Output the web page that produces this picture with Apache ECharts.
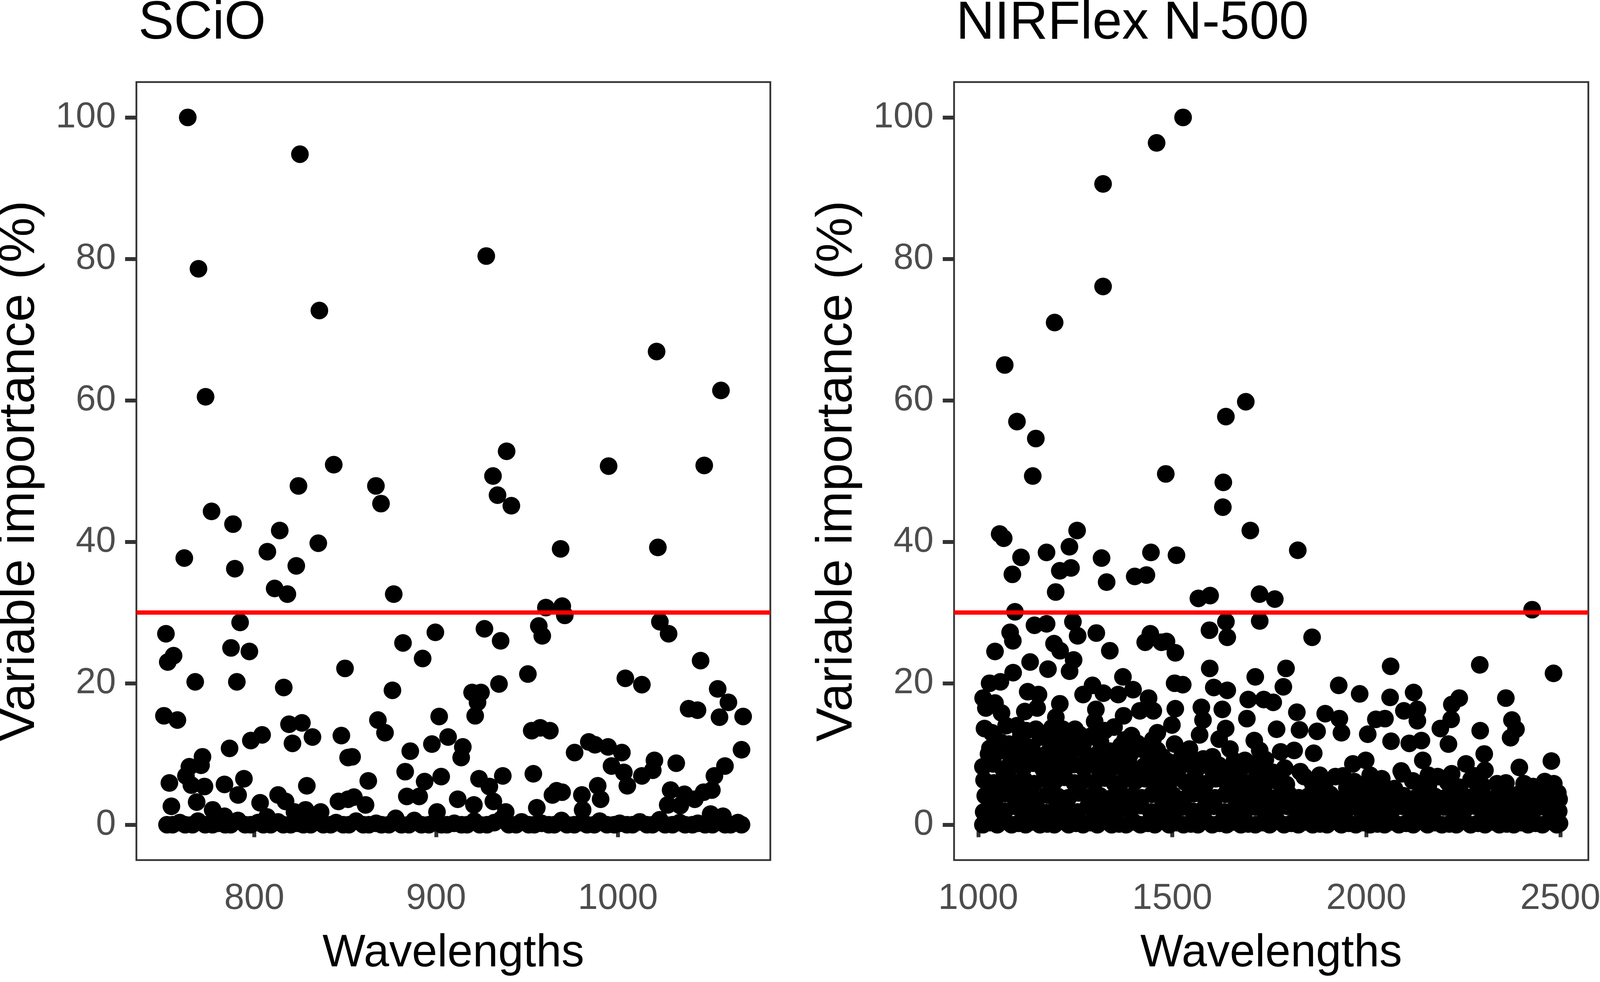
<!DOCTYPE html>
<html><head><meta charset="utf-8">
<script src="https://cdn.jsdelivr.net/npm/echarts@6/dist/echarts.min.js"></script>
<style>html,body{margin:0;padding:0;background:#fff;overflow:hidden}#c{width:100vw;height:100vh}</style>
</head><body><div id="c"></div>
<script>
// ---------- Titles / axis labels ----------
const panelTitles = ["SCiO", "NIRFlex N-500"];
const xTitle = "Wavelengths";
const yTitle = "Variable importance (%)";
const threshold = 30;
const yTicks = [0, 20, 40, 60, 80, 100];
const sciXTicks = [800, 900, 1000];
const nirXTicks = [1000, 1500, 2000, 2500];

// ---------- SCiO: [wavelength, importance] ----------
const sciHigh = [
[763.4,100],[825.1,94.8],[769.3,78.6],[927.6,80.4],[835.8,72.7],[773.2,60.5],[1021.3,66.9],[1056.7,61.4],
[938.8,52.8],[843.7,50.9],[994.9,50.7],[1047.5,50.8],[824.3,47.9],[866.9,47.9],[931.3,49.3],[869.7,45.4],
[933.8,46.6],[941.4,45.1],[776.5,44.3],[788.3,42.5],[814,41.6],[761.5,37.7],[807.2,38.6],[835.2,39.8],
[789.3,36.2],[823.1,36.6],[811.2,33.4],[818.2,32.6],[968.5,39],[1022,39.2],[876.7,32.6],[960.4,30.7],
[969.4,30.9],[970.8,29.6],[1023.1,28.7],[1027.9,27]
];
const sciMid = [
[792.2,28.6],[751.4,27],[755.6,23.9],[752.4,23],[787.2,25],[797.3,24.5],[849.9,22.1],[767.5,20.2],
[790.4,20.2],[816.2,19.4],[750.3,15.4],[757.7,14.8],[819.1,14.2],[826.2,14.4],[832,12.4],[821,11.5],
[847.9,12.6],[804.3,12.7],[798.1,11.9],[786.4,10.8],[851.6,9.5],[771.5,9.6],[770.7,8.4],[764.3,8.2],
[762.4,6.9],[753.3,5.9],[772.6,5.4],[765.4,5.6],[783.6,5.7],[794.3,6.5],[791.1,4.2],[828.9,5.5],
[768.3,3.2],[754.4,2.6],[777.1,2.1],[803.2,3.1],[813.1,4.2],[817.2,3.3],[846.3,3.3],[851.6,3.6],
[836.5,1.8],[822.1,1.8],[828.2,2.1],[783.6,1.2],[807,1.1],
[956.5,28.1],[958.4,26.7],[926.6,27.7],[935.5,26],[899.6,27.2],[881.8,25.7],[892.6,23.5],[950.5,21.3],
[934.6,19.9],[876,19],[919.8,18.7],[924.7,18.7],[922.8,17.3],[921.5,15.4],[901.7,15.3],[868,14.8],
[871.9,13],[952.6,13.3],[957.3,13.7],[962.6,13.3],[906.6,12.4],[897.7,11.4],[914.7,11],[913.8,9.5],
[885.8,10.4],[853.8,9.6],[883,7.5],[862.7,6.2],[893.7,6.1],[902.8,6.8],[923.6,6.5],[936.7,6.9],
[953.5,7.2],[929.3,5.4],[966.3,4.8],[964,4.2],[854.8,3.9],[861.2,2.8],[883.9,4],[890.7,4],
[911.9,3.6],[920.8,2.8],[931.5,3.3],[938.3,1.8],[955.4,2.4],[900.5,1.8],[877.8,0.9],
[1045.5,23.2],[1004.1,20.7],[1013.2,19.8],[1054.9,19.2],[1060.8,17.3],[1038.9,16.4],[1043.8,16.2],
[1055.9,15.2],[1068.9,15.3],[1068,10.6],[976.2,10.2],[984,11.7],[987.4,11.3],[994.6,11],[1002.2,10.2],
[996.5,8.3],[1003.3,7.4],[1005.2,5.5],[1013.2,6.9],[1020.1,9.1],[1019.2,7.7],[1032.1,8.7],[1058.9,8.3],
[1053.1,6.9],[1051.7,4.9],[1047.2,4.6],[1042.3,3.6],[1036.6,4.3],[1029,4.9],[1027.4,2.8],[1034.3,2.7],
[969.3,4.6],[980.2,4.2],[988.9,5.5],[990.5,3.6],[1051,1.5],[1057.8,1.2],[980.6,2.1]
];
const sciZero = [
[752,0],[755,0],[759,0.3],[762,0],[766,0],[769,0.5],[773,0],[777,0],[780,0.2],[784,0],[787,0],[791,0.6],
[795,0],[798,0],[802,0.3],[805,0],[809,0],[813,0.4],[816,0],[820,0],[824,0.2],[827,0],[831,0],[834,0.7],
[838,0],[842,0],[845,0.3],[849,0],[852,0],[856,0.5],[860,0],[863,0],[867,0.2],[870,0],[874,0],[878,0.4],
[881,0],[885,0],[888,0.6],[892,0],[896,0],[899,0.3],[903,0],[906,0],[910,0.2],[914,0],[917,0],[921,0.5],
[924,0],[928,0],[932,0.3],[936,0.8],[940,0],[944,0],[947,0.4],[951,0],[954,0],[958,0.2],[962,0],[965,0],
[969,0.6],[972,0],[976,0],[980,0.3],[983,0],[987,0],[990,0.5],[994,0],[998,0],[1001,0.2],[1005,0],[1008,0],
[1012,0.4],[1016,0],[1019,0],[1023,0.7],[1026,0],[1030,0],[1034,0.3],[1037,0],[1041,0],[1044,0.2],[1048,0],
[1052,0],[1055,0.5],[1059,0],[1062,0],[1066,0.3],[1068,0]
];

// ---------- NIRFlex N-500: [wavelength, importance] ----------
const nirHigh = [
[1527.9,100],[1459.7,96.4],[1321.7,90.6],[1321.7,76.1],[1196.9,71],[1068.3,65],[1689.5,59.8],[1638.2,57.7],
[1099.8,57],[1148.4,54.6],[1140.5,49.3],[1483.3,49.6],[1631.6,48.4],[1630.4,44.9],[1701.2,41.6],[1055.2,41.1],
[1065.6,40.5],[1254.8,41.6],[1235,39.3],[1176,38.5],[1110.3,37.8],[1445.1,38.5],[1510.9,38.1],[1317.8,37.7],
[1823.5,38.8],[1088,35.4],[1210.2,35.9],[1239,36.3],[1403.3,35.1],[1433.4,35.3],[1330.9,34.3],[1199.6,32.9],
[1567.4,32],[1597.6,32.4],[1724.9,32.6],[1764.3,31.9],[1094.6,30.1],[2427.5,30.4]
];
const nirMid = [
[1144.9,28.2],[1176.2,28.4],[1244,28.7],[1256.2,26.7],[1304.3,27.1],[1082.2,27.2],[1089.2,26],[1043.2,24.5],
[1339.1,24.6],[1443.5,27],[1430.3,25.8],[1472,25.8],[1195.3,25.6],[1211,24.6],[1133.7,23],[1179.7,22],
[1245.8,23.3],[1235.4,21.7],[1089.9,21.5],[1057.1,20.2],[1029.3,20],[1012.6,17.9],[1127.5,18.8],[1155.3,18.4],
[1043.2,17.2],[1019.6,16.5],[1151.8,16.5],[1210.3,17.1],[1270.2,18.4],[1294.5,19.7],[1322.4,18.6],[1372.9,20.9],
[1399,19.1],[1360.7,18.4],[1303.2,16.3],[1374.6,15.4],[1416.3,16.1],[1439,17.9],[1451.2,16.1],[1461.6,13],
[1016.1,13.6],[1071.8,14],[1099.6,14],[1124,13.3],[1148.3,13.5],[1190.1,13.7],[1217.9,13.5],[1249.3,13.5],
[1325.9,13.3],[1378.1,12],[1419.8,10.7],[1270.2,11.4],[1280.6,9.8],[1043.9,12.1],[1026.5,10],[1078.7,11.4],
[1127.5,10],[1165.7,9.6],[1204,11.4],[1217.9,9.8],[1329.3,9.6],[1357.2,10.5],[1461.6,10.5],
[1638.3,28.7],[1725.4,28.8],[1595.9,27.5],[1641.8,26.5],[1860.4,26.5],[1508,24.3],[1485.2,25.9],[1596.6,22.1],
[1793.2,22.1],[1713.9,20.9],[1506.1,20],[1527,19.8],[1607,19.4],[1641.8,19],[1786.3,19.5],[1929,19.7],
[1983,18.5],[1695.8,17.7],[1735.8,17.7],[1760.2,17.3],[1507.8,16.4],[1575,16.6],[1629,16.3],[1692.3,15],
[1821.1,15.9],[1894.2,15.7],[1930.7,15],[1579.2,14.8],[1499.1,14.1],[1768.9,13.5],[1637.7,13.6],[1828,13.4],
[1873.3,13.2],[1936,13],[2024.7,14.9],[2003.8,12.8],[1570.5,12.7],[1620.9,12.1],[1711.4,11.9],[1648.8,10.7],
[1544.4,10.7],[1506.1,11.4],[1779.3,10.3],[1814.1,10.5],[1864.6,10.1],[1725.4,10.5],[1603.5,9.6],[1687.1,9.1],
[1965.5,8.6],[1998.6,9.1],[1840.2,6.8],[1920.3,6.8],[1969,6.1],[2021.2,4.7],
[2062.8,22.4],[2292.5,22.6],[2482.6,21.4],[2061.4,18],[2122,18.7],[2239.6,17.9],[2220.5,17],[2359.7,17.9],
[2375.4,14.8],[2385.8,13.5],[2371.9,12.3],[2048.2,15],[2096.9,16.1],[2131.7,16.3],[2131.7,14.7],[2218.8,14.9],
[2190.9,13.6],[2211.8,11.4],[2293.6,13.3],[2063.9,11.8],[2110.9,11.5],[2142.2,11.9],[2145.7,9.1],[2304,10],
[2257,8.6],[2305.8,7.7],[2394.5,8.1],[2477,9],[2184,6.8],[2093.5,7.2],[2337.1,5.8],[2483.3,5.8],
[2493.7,4.5],[2072.6,5.1],[2142.2,5.1],[2406.7,5.8],
[1050,10.3],[1105,9.9],[1180,10.2],[1240,10.6],[1310,10.1],[1390,9.8],[1440,9.5]
];
const nirRow0 = [
[1012,0],[1030,0.3],[1049,0],[1067,0.5],[1086,0],[1104,0.2],[1122,0],[1141,0.4],[1159,0],[1178,0.1],[1196,0],
[1215,0.6],[1233,0],[1252,0.2],[1270,0],[1289,0.3],[1307,0],[1326,0.5],[1344,0],[1363,0.1],[1381,0],[1400,0.4],
[1418,0],[1437,0.2],[1455,0],[1474,0.6],[1492,0],[1511,0.3],[1529,0],[1548,0.1],[1566,0],[1585,0.5],[1603,0],
[1622,0.2],[1640,0],[1659,0.4],[1677,0],[1696,0.1],[1714,0],[1733,0.3],[1751,0],[1770,0.6],[1788,0],[1807,0.2],
[1825,0],[1844,0.4],[1862,0],[1881,0.1],[1899,0],[1918,0.5],[1936,0],[1955,0.2],[1973,0],[1992,0.3],[2010,0],
[2029,0.1],[2047,0],[2066,0.4],[2084,0],[2103,0.2],[2121,0],[2140,0.6],[2158,0],[2177,0.3],[2195,0],[2214,0.1],
[2232,0],[2251,0.5],[2269,0],[2288,0.2],[2306,0],[2325,0.4],[2343,0],[2362,0.1],[2380,0],[2399,0.3],[2417,0],
[2436,0.2],[2454,0],[2473,0.5],[2491,0],[2498,0.2]
];
const nirRow2 = [
[1014,1.8],[1040,2.4],[1068,1.9],[1095,2.6],[1120,2.0],[1148,2.3],[1175,1.7],[1202,2.5],[1229,2.1],[1256,1.8],
[1283,2.6],[1310,2.2],[1337,1.9],[1364,2.4],[1391,2.0],[1418,2.7],[1445,1.8],[1472,2.3],[1499,2.0],[1526,2.5],
[1553,1.9],[1580,2.2],[1607,2.6],[1634,1.8],[1661,2.3],[1688,2.0],[1715,2.5],[1742,1.7],[1769,2.2],[1796,2.6],
[1823,1.9],[1850,2.4],[1877,2.0],[1904,2.3],[1931,1.8],[1958,2.5],[1985,2.1],[2012,1.9],[2039,2.4],[2066,2.0],
[2093,2.6],[2120,1.8],[2147,2.3],[2174,2.0],[2201,2.5],[2228,1.9],[2255,2.2],[2282,2.6],[2309,1.8],[2336,2.4],
[2363,2.0],[2390,2.3],[2417,1.9],[2444,2.5],[2471,2.1],[2496,1.9]
];
const nirRow4 = [
[1018,4.1],[1044,3.7],[1070,4.4],[1097,3.9],[1124,4.3],[1151,3.6],[1178,4.2],[1205,4.0],[1232,3.8],[1259,4.5],
[1286,3.9],[1313,4.1],[1340,3.7],[1367,4.4],[1394,4.0],[1421,3.8],[1448,4.3],[1475,3.9],[1502,4.2],[1529,3.6],
[1556,4.4],[1583,4.0],[1610,3.8],[1637,4.3],[1664,4.1],[1691,3.7],[1718,4.2],[1745,4.0],[1772,3.9],[1799,4.4],
[1826,3.8],[1853,4.1],[1880,3.9],[1907,4.3],[1934,3.6],[1961,4.2],[1988,4.0],[2015,3.8],[2042,4.4],[2069,3.9],
[2096,4.1],[2123,3.7],[2150,4.3],[2177,4.0],[2204,3.8],[2231,4.2],[2258,3.9],[2285,4.4],[2312,3.7],[2339,4.1],
[2366,3.9],[2393,4.3],[2420,3.8],[2447,4.0],[2474,4.2],[2497,3.6]
];
const nirRow6 = [
[1015,6.3],[1040,5.9],[1066,6.6],[1092,6.0],[1118,6.4],[1144,5.8],[1170,6.5],[1196,6.1],[1222,6.7],[1248,5.9],
[1274,6.3],[1300,6.0],[1326,6.6],[1352,5.8],[1378,6.4],[1404,6.1],[1430,6.5],[1456,5.9],[1482,6.2],[1508,6.6],
[1534,6.0],[1560,6.4],[1586,5.8],[1612,6.5],[1638,6.1],[1664,6.3],[1690,5.9],[1716,6.6],[1742,6.0],[1768,6.2],
[1794,5.7],[1862,5.8],[1892,5.5],[1950,5.2],[2000,5.6],[2040,6.5],[2120,6.2],[2160,5.5],[2210,6.0],[2240,5.3],
[2270,6.4],[2300,5.5],[2360,5.9],[2430,5.4],[2460,6.1]
];
const nirRow8 = [
[1012,8.2],[1038,8.6],[1064,7.9],[1090,8.4],[1116,8.0],[1142,8.7],[1168,7.8],[1194,8.3],[1220,7.9],[1246,8.5],
[1272,8.0],[1298,8.4],[1324,7.8],[1350,8.2],[1376,8.6],[1402,7.9],[1428,8.3],[1454,8.0],[1480,7.7],[1520,8.2],
[1560,7.6],[1600,8.0],[1640,7.5],[1680,8.1],[1720,7.7],[1760,7.4],[2090,7.6],[2160,7.0],[2220,7.2],[2280,6.9]
];
const nirRow10 = [
[1030,10.8],[1060,11.6],[1085,9.5],[1112,11.9],[1138,10.9],[1160,12.4],[1185,11.8],[1230,12.2],[1262,10.8],[1290,12.5],
[1315,11.7],[1340,10.4],[1368,11.2],[1395,12.6],[1410,11.5],[1450,12.0],[1475,9.6],[1490,8.9],[1525,9.6],[1550,8.8],
[1580,9.3],[1620,8.4],[1660,9.0],[1700,8.6],[1740,9.2],[1790,8.0],[1830,7.5],[1880,7.0],[1940,6.9],[2010,7.0],
[1035,13.0],[1110,12.7],[1170,12.9],[1260,12.8],[1300,14.6],[1350,13.8],[1200,15.2],[1120,16.0],[1060,15.8]
];

const sciData = sciZero.concat(sciMid, sciHigh);
const nirData = nirRow0.concat(nirRow2, nirRow4, nirRow6, nirRow8, nirRow10, nirMid, nirHigh);

// ---------- Chart ----------
const FONT = "Liberation Sans, Arial, sans-serif";
const el = document.getElementById('c');
const chart = echarts.init(el, null, {renderer: 'canvas'});
const W = chart.getWidth(), H = chart.getHeight();
const sx = W / 4528, sy = H / 2513, s = Math.min(sx, sy);
const X = v => v * sx, Y = v => v * sy, S = v => v * s;
const plain = v => String(v);

function xAxisDef(idx, min, max, ticks) {
  return {
    type: 'value', gridIndex: idx, min: min, max: max,
    name: xTitle, nameLocation: 'middle', nameGap: Y(181),
    nameTextStyle: {fontSize: S(129), color: '#000', fontFamily: FONT},
    axisLine: {show: false},
    axisTick: {show: true, length: Y(32), customValues: ticks, lineStyle: {color: '#333333', width: S(11)}},
    axisLabel: {show: true, customValues: ticks, formatter: plain, margin: Y(54), fontSize: S(102), color: '#4D4D4D', fontFamily: FONT},
    splitLine: {show: false}
  };
}
function yAxisDef(idx) {
  return {
    type: 'value', gridIndex: idx, min: -5, max: 105,
    name: yTitle, nameLocation: 'middle', nameGap: X(258), nameRotate: 90,
    nameTextStyle: {fontSize: 130 * sy, color: '#000', fontFamily: FONT},
    axisLine: {show: false},
    axisTick: {show: true, length: X(32), customValues: yTicks, lineStyle: {color: '#333333', width: S(11)}},
    axisLabel: {show: true, customValues: yTicks, formatter: plain, margin: X(58), fontSize: S(102), color: '#4D4D4D', fontFamily: FONT},
    splitLine: {show: false}
  };
}
function thresholdSeries(idx) {
  return {
    type: 'scatter', xAxisIndex: idx, yAxisIndex: idx, data: [], z: 10, silent: true,
    markLine: {
      silent: true, symbol: ['none', 'none'], label: {show: false},
      lineStyle: {color: '#FF0000', width: S(12), type: 'solid'},
      emphasis: {disabled: true},
      data: [{yAxis: threshold}]
    }
  };
}
function pointSeries(idx, data) {
  return {type: 'scatter', xAxisIndex: idx, yAxisIndex: idx, data: data, symbol: 'circle', symbolSize: S(50),
    itemStyle: {color: '#000000', opacity: 1}, silent: true, z: 2};
}
function gridDef(left, width) {
  return {left: X(left), top: Y(210), width: X(width), height: Y(1991), show: true,
    borderColor: '#333333', borderWidth: S(5), backgroundColor: 'transparent',
    containLabel: false, outerBoundsMode: 'none'};
}

chart.setOption({
  animation: false,
  backgroundColor: '#ffffff',
  title: [
    {text: panelTitles[0], left: X(386), top: Y(-12), textStyle: {fontSize: S(151), fontWeight: 'normal', color: '#000', fontFamily: FONT}},
    {text: panelTitles[1], left: X(2700), top: Y(-12), textStyle: {fontSize: S(151), fontWeight: 'normal', color: '#000', fontFamily: FONT}}
  ],
  grid: [gridDef(386, 1794), gridDef(2700, 1795)],
  xAxis: [xAxisDef(0, 735.15, 1083.85, sciXTicks), xAxisDef(1, 937.7, 2572.3, nirXTicks)],
  yAxis: [yAxisDef(0), yAxisDef(1)],
  series: [pointSeries(0, sciData), pointSeries(1, nirData), thresholdSeries(0), thresholdSeries(1)]
});
</script></body></html>
